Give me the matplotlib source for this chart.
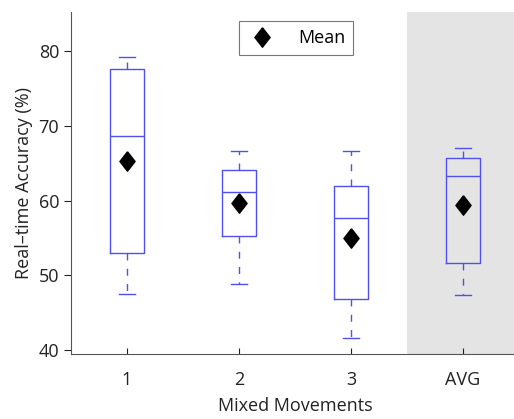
import numpy as np
import matplotlib.pyplot as plt

plt.rcParams['font.family'] = ['Open Sans', 'DejaVu Sans']

labels = ['1', '2', '3', 'AVG']
whisker_lo = [47.4, 48.8, 41.5, 47.3]
q1 = [53.0, 55.3, 46.8, 51.6]
median = [68.7, 61.1, 57.7, 63.3]
q3 = [77.6, 64.1, 61.9, 65.7]
whisker_hi = [79.3, 66.7, 66.6, 67.1]
means = [65.3, 59.7, 55.0, 59.4]

stats = []
for i in range(len(labels)):
    stats.append({'whislo': whisker_lo[i], 'q1': q1[i], 'med': median[i],
                  'q3': q3[i], 'whishi': whisker_hi[i], 'label': labels[i]})

blue = '#5050f0'
# diamond a little taller than wide, like the original
diamond = [(0, 1), (0.78, 0), (0, -1), (-0.78, 0), (0, 1)]

fig = plt.figure(figsize=(5.14, 4.19), dpi=100)
ax = fig.add_axes([71/514, 1 - 354/419, 448/514, (354 - 12)/419])

ax.axvspan(3.5, 4.6, color='#e4e4e4', zorder=0, lw=0)

ax.bxp(stats, positions=range(1, 5), widths=0.30, showfliers=False,
       boxprops=dict(color=blue, lw=1),
       medianprops=dict(color=blue, lw=1),
       whiskerprops=dict(color=blue, lw=1, linestyle=(0, (5, 6))),
       capprops=dict(color=blue, lw=1), capwidths=0.15)

ax.plot(range(1, 5), means, linestyle='none', marker=diamond, color='black',
        markersize=14, label='Mean', zorder=5)

ax.set_xlim(0.5, 4.5)
ax.set_ylim(39.4, 85.3)
ax.set_yticks([40, 50, 60, 70, 80])
ax.set_xticks(range(1, 5))
ax.set_xticklabels(labels)
ax.tick_params(axis='x', direction='in', length=4, labelsize=13, colors='#222222', pad=12)
ax.tick_params(axis='y', direction='out', length=5, labelsize=13, colors='#222222')
for s in ['top', 'right']:
    ax.spines[s].set_visible(False)
for s in ['left', 'bottom']:
    ax.spines[s].set_color('#555555')

ax.set_ylabel('Real\u2013time Accuracy (%)', fontsize=13, color='#222222')
ax.set_xlabel('Mixed Movements', fontsize=13, color='#222222', labelpad=6)

leg = ax.legend(loc='upper center', bbox_to_anchor=(0.503, 0.985), fontsize=13,
                fancybox=False, edgecolor='#555555', handletextpad=1.2,
                borderpad=0.45, handlelength=1.6, borderaxespad=0.2)
leg.get_frame().set_linewidth(0.8)

fig.savefig('out.png', dpi=100)
